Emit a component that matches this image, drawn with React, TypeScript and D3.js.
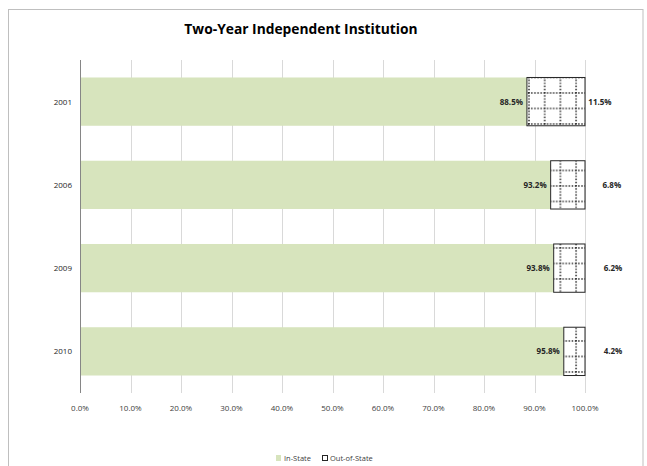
import React from "react";
import * as d3 from "d3";

const years = ["2001", "2006", "2009", "2010"];
const inState = [88.5, 93.2, 93.8, 95.8];
const outState = [11.5, 6.8, 6.2, 4.2];
const xTicks = [0, 10, 20, 30, 40, 50, 60, 70, 80, 90, 100];
const seriesNames = ["In-State", "Out-of-State"];
const title = "Two-Year Independent Institution";

const W = 647;
const H = 466;
const FONT = "'Open Sans', 'Noto Sans', sans-serif";
const GREEN = "#d7e4bd";

export default function App() {
  const x = d3.scaleLinear().domain([0, 100]).range([80, 585]);
  const y = d3.scaleBand().domain(years).range([60, 393]).paddingInner(0.42).paddingOuter(0.21);
  const bh = y.bandwidth();

  return (
    <svg width={W} height={H} style={{ position: "absolute", left: 0, top: 0, display: "block" }}>
      <defs>
        <pattern id="dotgrid" patternUnits="userSpaceOnUse" width={15.7} height={15.5} x={528} y={92}>
          <rect width={15.7} height={15.5} fill="#fff" />
          <line x1={1} y1={0} x2={1} y2={15.5} stroke="#222" strokeWidth={1.5} strokeDasharray="1.4,1.7" />
          <line x1={0} y1={1} x2={15.7} y2={1} stroke="#222" strokeWidth={1.5} strokeDasharray="1.4,1.7" />
        </pattern>
      </defs>
      <rect x={8.5} y={9.5} width={634.5} height={470} fill="#fff" stroke="#bfbfbf" strokeWidth={1} />
      <text x={301} y={34} textAnchor="middle" fontFamily={FONT} fontWeight="bold" fontSize={13.8} fill="#000">
        {title}
      </text>
      {xTicks.map((t) => (
        <g key={t}>
          {t > 0 && (
            <line x1={Math.round(x(t)) + 0.5} x2={Math.round(x(t)) + 0.5} y1={60} y2={393} stroke="#d9d9d9" strokeWidth={1} />
          )}
          <text x={x(t)} y={411} textAnchor="middle" fontFamily={FONT} fontSize={8} fill="#404040">
            {t.toFixed(1) + "%"}
          </text>
        </g>
      ))}
      {years.map((yr, i) => {
        const y0 = y(yr)!;
        const xa = x(0);
        const xb = x(inState[i]);
        const xc = x(inState[i] + outState[i]);
        const segCenter = (xb + xc) / 2;
        const outLabelX = Math.min(segCenter + 44, 613);
        return (
          <g key={yr}>
            <rect x={xa} y={y0} width={xb - xa} height={bh} fill={GREEN} />
            <rect x={xb} y={y0} width={xc - xb} height={bh} fill="url(#dotgrid)" stroke="#262626" strokeWidth={1} />
            <text x={xa - 8} y={y0 + bh / 2 + 3} textAnchor="end" fontFamily={FONT} fontSize={8} fill="#262626">
              {yr}
            </text>
            <text x={xb - 4} y={y0 + bh / 2 + 3} textAnchor="end" fontFamily={FONT} fontWeight="bold" fontSize={8} fill="#262626">
              {inState[i].toFixed(1) + "%"}
            </text>
            <text x={outLabelX} y={y0 + bh / 2 + 3} textAnchor="middle" fontFamily={FONT} fontWeight="bold" fontSize={8} fill="#262626">
              {outState[i].toFixed(1) + "%"}
            </text>
          </g>
        );
      })}
      <line x1={80.5} x2={80.5} y1={60} y2={393} stroke="#868686" strokeWidth={1} />
      <g>
        <rect x={276} y={455} width={5} height={6} fill={GREEN} />
        <text x={284} y={461} fontFamily={FONT} fontSize={7.5} fill="#404040">{seriesNames[0]}</text>
        <rect x={322.5} y={455.5} width={5} height={5} fill="#fff" stroke="#262626" strokeWidth={1} />
        <text x={330} y={461} fontFamily={FONT} fontSize={7.5} fill="#404040">{seriesNames[1]}</text>
      </g>
    </svg>
  );
}
